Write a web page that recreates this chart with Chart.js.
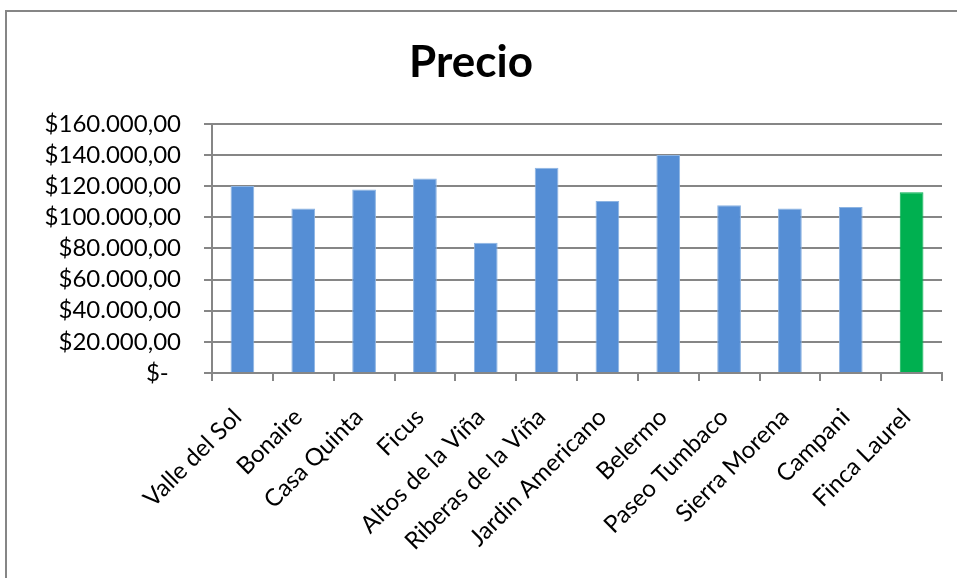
<!DOCTYPE html>
<html>
<head>
<meta charset="utf-8">
<script src="https://cdn.jsdelivr.net/npm/chart.js@4"></script>
<style>
  body { margin: 0; background: #fff; }
</style>
</head>
<body>
<canvas id="precioGraph" width="957" height="578"></canvas>
<script>
const categories = ["Valle del Sol", "Bonaire", "Casa Quinta", "Ficus", "Altos de la Viña",
    "Riberas de la Viña", "Jardin Americano", "Belermo", "Paseo Tumbaco", "Sierra Morena",
    "Campani", "Finca Laurel"];
const precios = [120000, 105600, 117800, 124800, 83600, 131800, 110500, 140000, 107700, 105600, 106600, 116000];
const yTicks = [0, 20000, 40000, 60000, 80000, 100000, 120000, 140000, 160000];

const blue = '#558ED5';
const green = '#00B050';
const barColors = categories.map((c, i) => i === categories.length - 1 ? green : blue);
const barBorders = categories.map((c, i) => i === categories.length - 1 ? green : '#8DB4E2');

function money(v) {
    if (v === 0) return '$-  ';
    return '$' + String(v).replace(/\B(?=(\d{3})+(?!\d))/g, '.') + ',00';
}

// marco exterior del grafico
const frame = {
    id: 'frame',
    beforeDraw(chart) {
        const c = chart.ctx;
        c.save();
        c.strokeStyle = '#868686';
        c.lineWidth = 2;
        c.strokeRect(6, 11, 1000, 1000);
        c.restore();
    }
};

const ctx = document.getElementById('precioGraph').getContext('2d');

new Chart(ctx, {
    type: 'bar',
    data: {
        labels: categories,
        datasets: [{
            label: 'Precio',
            data: precios,
            backgroundColor: barColors,
            borderColor: barBorders,
            borderWidth: 1,
            barPercentage: 0.39,
            categoryPercentage: 1
        }]
    },
    options: {
        responsive: false,
        animation: false,
        layout: { padding: { left: 0, right: 15, top: 0, bottom: 0 } },
        plugins: {
            legend: { display: false },
            tooltip: { enabled: false },
            title: {
                display: true,
                text: 'Precio',
                color: '#000',
                font: { family: 'Lato', size: 44, weight: 'bold' },
                padding: { top: 36, bottom: 35 }
            }
        },
        scales: {
            x: {
                offset: true,
                grid: {
                    offset: true,
                    drawOnChartArea: false,
                    color: '#868686',
                    lineWidth: 2,
                    tickLength: 8
                },
                border: { color: '#868686', width: 2 },
                ticks: {
                    color: '#000',
                    font: { family: 'Lato', size: 24 },
                    maxRotation: 45,
                    minRotation: 45,
                    padding: 22,
                    labelOffset: -5,
                    autoSkip: false
                },
                afterFit(scale) { scale.height = 205; }
            },
            y: {
                min: 0,
                max: 160000,
                afterBuildTicks(scale) { scale.ticks = yTicks.map(v => ({ value: v })); },
                grid: {
                    color: '#868686',
                    lineWidth: 2,
                    tickLength: 8
                },
                border: { color: '#868686', width: 2 },
                ticks: {
                    color: '#000',
                    font: { family: 'Lato', size: 24, lineHeight: 1 },
                    padding: 23,
                    autoSkip: false,
                    callback: v => money(v)
                },
                afterFit(scale) { scale.width = 212; }
            }
        }
    },
    plugins: [frame]
});
</script>
</body>
</html>
